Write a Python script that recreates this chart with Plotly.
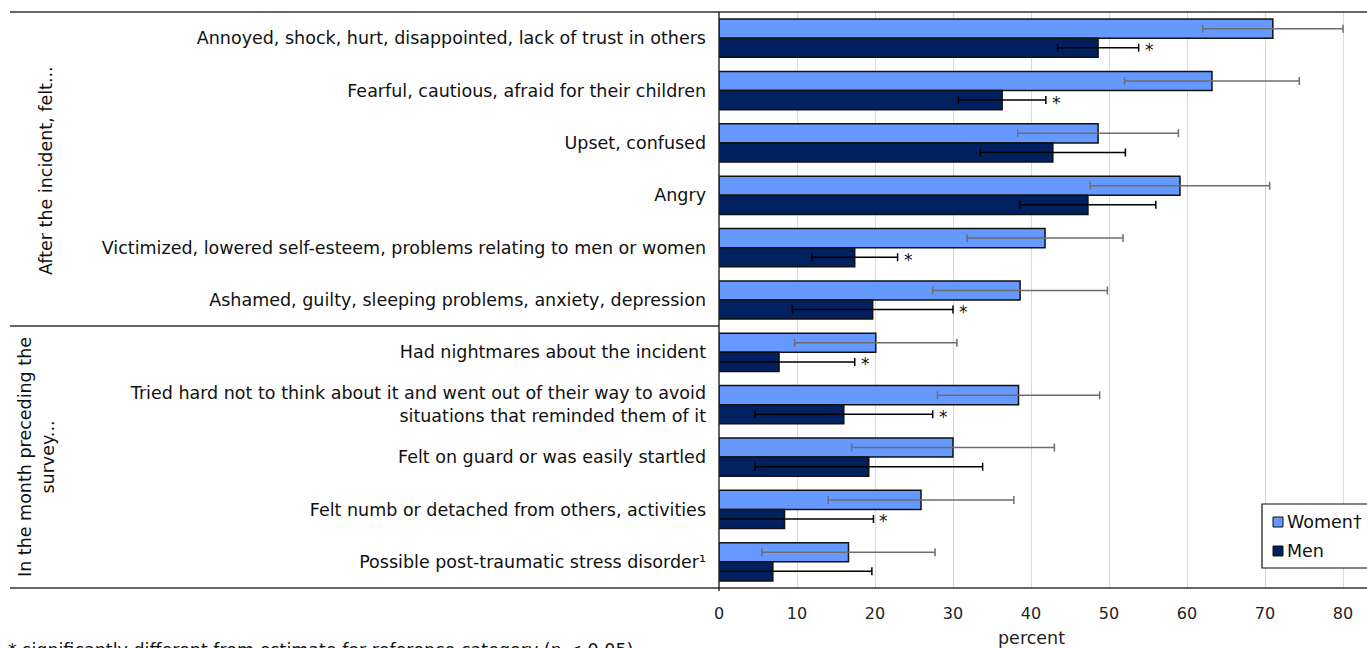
import plotly.graph_objects as go

# Row labels, top to bottom
categories = [
    "Annoyed, shock, hurt, disappointed, lack of trust in others",
    "Fearful, cautious, afraid for their children",
    "Upset, confused",
    "Angry",
    "Victimized, lowered self-esteem, problems relating to men or women",
    "Ashamed, guilty, sleeping problems, anxiety, depression",
    "Had nightmares about the incident",
    "Tried hard not to think about it and went out of their way to avoid<br>situations that reminded them of it",
    "Felt on guard or was easily startled",
    "Felt numb or detached from others, activities",
    "Possible post-traumatic stress disorder\u00b9",
]

# Percent values and 95% confidence half-widths
women = [71.0, 63.2, 48.6, 59.1, 41.8, 38.6, 20.1, 38.4, 30.0, 25.9, 16.6]
women_err = [9.0, 11.2, 10.3, 11.5, 10.0, 11.2, 10.4, 10.4, 13.0, 11.9, 11.1]
men = [48.6, 36.3, 42.8, 47.3, 17.4, 19.7, 7.7, 16.0, 19.2, 8.4, 6.9]
men_err = [5.2, 5.6, 9.3, 8.7, 5.5, 10.3, 9.7, 11.4, 14.6, 11.4, 12.7]
# Men's estimate differs significantly from women's (reference category)
significant = [True, True, False, False, True, True, True, True, False, True, False]

group_labels = ["After the incident, felt...", "In the month preceding the<br>survey..."]
x_ticks = [0, 10, 20, 30, 40, 50, 60, 70, 80]
footnote = "* significantly different from estimate for reference category (p < 0.05)"

WOMEN_COLOR = "#6699FF"
MEN_COLOR = "#002060"
FONT = "DejaVu Sans"
LABEL_SIZE = 17.5

W, H = 1367, 648
L, R, T, B = 719, 1367, 12, 588


def px(x):
    return (x - L) / (R - L)


def py(y):
    return (B - y) / (B - T)


fig = go.Figure()
fig.add_trace(go.Bar(
    y=categories, x=women, orientation="h", name="Women\u2020",
    marker=dict(color=WOMEN_COLOR, line=dict(color="#111111", width=1.5)),
    error_x=dict(type="data", array=women_err, color="#6e6e6e", thickness=1.5, width=4),
))
fig.add_trace(go.Bar(
    y=categories, x=men, orientation="h", name="Men",
    marker=dict(color=MEN_COLOR, line=dict(color="#111111", width=1.5)),
    error_x=dict(type="data", array=men_err, color="#000000", thickness=1.5, width=4),
))

annotations = []
# significance markers after the men's upper bound
for cat, v, e, s in zip(categories, men, men_err, significant):
    if s:
        annotations.append(dict(
            x=v + e, y=cat, xref="x", yref="y", text="*", showarrow=False,
            xanchor="left", yanchor="middle", xshift=4, yshift=-12,
            font=dict(family=FONT, size=17, color="#111111"),
        ))

# group labels on the left
annotations.append(dict(
    x=px(46), y=py(171), xref="paper", yref="paper", text=group_labels[0],
    textangle=-90, showarrow=False, xanchor="center", yanchor="middle",
    font=dict(family=FONT, size=LABEL_SIZE, color="#111111"),
))
annotations.append(dict(
    x=px(36), y=py(457), xref="paper", yref="paper", text=group_labels[1],
    textangle=-90, showarrow=False, xanchor="center", yanchor="middle",
    font=dict(family=FONT, size=LABEL_SIZE, color="#111111"),
))

# axis title
annotations.append(dict(
    x=px(1031), y=py(638), xref="paper", yref="paper", text="percent",
    showarrow=False, xanchor="center", yanchor="middle",
    font=dict(family=FONT, size=LABEL_SIZE, color="#222222"),
))

# footnote
annotations.append(dict(
    x=px(6), y=py(638), xref="paper", yref="paper", text=footnote,
    showarrow=False, xanchor="left", yanchor="top",
    font=dict(family=FONT, size=LABEL_SIZE, color="#111111"),
))

# legend drawn as a boxed key
legend_items = [("Women\u2020", WOMEN_COLOR, 522), ("Men", MEN_COLOR, 551)]
shapes = [
    dict(type="rect", xref="paper", yref="paper", x0=px(1262), x1=px(1380),
         y0=py(504), y1=py(568), line=dict(color="#111111", width=1.2), fillcolor="white"),
]
for name, color, yc in legend_items:
    shapes.append(dict(type="rect", xref="paper", yref="paper",
                       x0=px(1273), x1=px(1283), y0=py(yc - 5), y1=py(yc + 5),
                       line=dict(color="#111111", width=1), fillcolor=color))
    annotations.append(dict(
        x=px(1285), y=py(yc), xref="paper", yref="paper", text=name,
        showarrow=False, xanchor="left", yanchor="middle",
        font=dict(family=FONT, size=LABEL_SIZE, color="#111111"),
    ))

# frame lines: top, section divider, bottom, vertical axis
shapes += [
    dict(type="line", xref="paper", yref="paper", x0=px(10), x1=px(1367),
         y0=py(12), y1=py(12), line=dict(color="#333333", width=1.6)),
    dict(type="line", xref="paper", yref="paper", x0=px(10), x1=px(719),
         y0=py(326), y1=py(326), line=dict(color="#333333", width=1.6)),
    dict(type="line", xref="paper", yref="paper", x0=px(10), x1=px(1367),
         y0=py(588), y1=py(588), line=dict(color="#333333", width=1.6)),
    dict(type="line", xref="paper", yref="paper", x0=0, x1=0,
         y0=py(12), y1=py(591), line=dict(color="#222222", width=1.4)),
]

fig.update_layout(
    width=W, height=H,
    margin=dict(l=L, r=W - R, t=T, b=H - B, pad=0),
    paper_bgcolor="white", plot_bgcolor="white",
    barmode="group", bargap=0.27, bargroupgap=0,
    showlegend=False,
    font=dict(family=FONT, size=LABEL_SIZE, color="#111111"),
    xaxis=dict(
        range=[0, (R - L) / 7.8], tickvals=x_ticks, showgrid=True,
        gridcolor="#d9d9d9", gridwidth=1, zeroline=False, showline=False,
        ticks="", tickfont=dict(family=FONT, size=16, color="#222222"),
        ticklabelstandoff=14,
    ),
    yaxis=dict(
        autorange="reversed", showgrid=False, zeroline=False, showline=False,
        ticks="", ticklabelstandoff=12,
        tickfont=dict(family=FONT, size=LABEL_SIZE, color="#111111"),
    ),
    shapes=shapes,
    annotations=annotations,
)

fig.write_html("out.html")
